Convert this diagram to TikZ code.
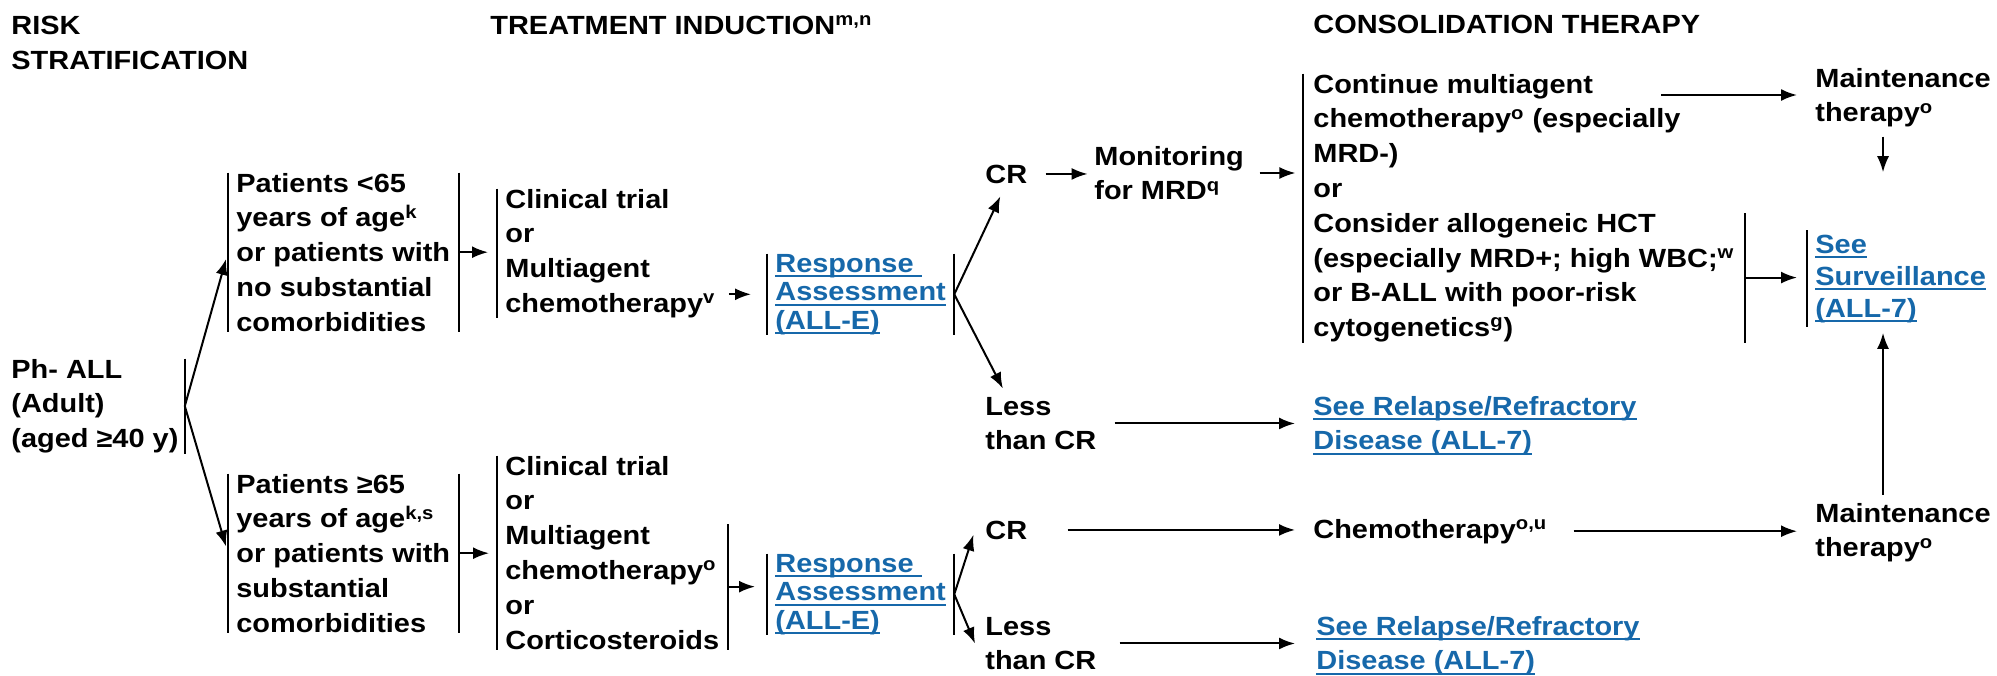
\documentclass[tikz,border=0pt]{standalone}
\usepackage{fontspec}
\setmainfont{Liberation Sans}[FakeStretch=1.1]
\usetikzlibrary{arrows.meta}
\definecolor{linkblue}{RGB}{22,104,170}
\newsavebox{\lnkbox}
\newcommand{\lnk}[1]{\sbox{\lnkbox}{#1}\rlap{\rule[-2.5pt]{\wd\lnkbox}{1pt}}\usebox{\lnkbox}}
\tikzset{
  txt/.style={anchor=base west, inner sep=0pt, align=left,
    font=\fontsize{13.15pt}{17.4pt}\selectfont\bfseries},
  blk/.style={txt, inner xsep=4pt},
  link/.style={text=linkblue, font=\fontsize{13.15pt}{#1}\selectfont\bfseries},
  link/.default=17.4pt,
  arr/.style={-{Latex[length=8pt,width=6pt]}, line width=1pt},
  bar/.style={line width=1pt}
}
\begin{document}
\begin{tikzpicture}[x=0.5pt, y=-0.5pt]
    \useasboundingbox (0, 0) rectangle (1997, 675) ;
    \node[txt] (risk) at (11, 69) {RISK\\STRATIFICATION} ;
    \node[txt] (induct) at (490, 34) {TREATMENT INDUCTION\textsuperscript{m,n}} ;
    \node[txt] (consol) at (1313, 33) {CONSOLIDATION THERAPY} ;
    \node[blk, inner xsep=3pt] (phall) at (5, 447.6) {Ph- ALL\\(Adult)\\(aged ≥40 y)} ;
    \node[blk] (young) at (228, 331.2) {Patients <65\\years of age\textsuperscript{k}\\or patients with\\no substantial\\comorbidities} ;
    \node[blk] (old) at (228, 632.2) {Patients ≥65\\years of age\textsuperscript{k,s}\\or patients with\\substantial\\comorbidities} ;
    \node[blk] (trialA) at (497, 312.4) {Clinical trial\\or\\Multiagent\\chemotherapy\textsuperscript{v}} ;
    \node[blk] (trialB) at (497, 649) {Clinical trial\\or\\Multiagent\\chemotherapy\textsuperscript{o}\\or\\Corticosteroids} ;
    \node[blk, link=14.3pt] (respA) at (767, 329.2) {\lnk{Response\ }\\\lnk{Assessment}\\\lnk{(ALL-E)}} ;
    \node[blk, link=14.3pt] (respB) at (767, 629.2) {\lnk{Response\ }\\\lnk{Assessment}\\\lnk{(ALL-E)}} ;
    \node[txt] (crA) at (985, 183) {CR} ;
    \node[txt] (lessA) at (985, 449.8) {Less\\than CR} ;
    \node[txt] (crB) at (985, 539) {CR} ;
    \node[txt] (lessB) at (985, 669.8) {Less\\than CR} ;
    \node[txt] (monitor) at (1094, 199.8) {Monitoring\\for MRD\textsuperscript{q}} ;
    \node[blk, inner xsep=5pt] (consolA) at (1303, 336.6) {Continue multiagent\\chemotherapy\textsuperscript{o} (especially\\MRD-)\\or\\Consider allogeneic HCT\\(especially MRD+; high WBC;\textsuperscript{w}\\or B-ALL with poor-risk\\cytogenetics\textsuperscript{g})} ;
    \node[txt, link] (relA) at (1313, 449.8) {\lnk{See Relapse/Refractory}\\\lnk{Disease (ALL-7)}} ;
    \node[txt] (chemo) at (1313, 538) {Chemotherapy\textsuperscript{o,u}} ;
    \node[txt, link] (relB) at (1316, 669.8) {\lnk{See Relapse/Refractory}\\\lnk{Disease (ALL-7)}} ;
    \node[txt] (maintA) at (1815, 121.8) {Maintenance\\therapy\textsuperscript{o}} ;
    \node[blk, inner ysep=2pt, link=16pt] (surv) at (1807, 317) {\lnk{See}\\\lnk{Surveillance}\\\lnk{(ALL-7)}} ;
    \node[txt] (maintB) at (1815, 556.8) {Maintenance\\therapy\textsuperscript{o}} ;
    \coordinate (cont) at (1661, 95) ;
    \draw[bar] (phall.north east) -- (phall.south east) ;
    \foreach \n in {young, old, respA, respB} {
      \draw[bar] (\n.north west) -- (\n.south west) ;
      \draw[bar] (\n.north east) -- (\n.south east) ;
    }
    \foreach \n in {trialA, trialB, consolA, surv}
      \draw[bar] (\n.north west) -- (\n.south west) ;
    \draw[bar] (trialB.south east) -- ++(0, -126) coordinate[midway] (trialBout) ;
    \draw[bar] (consolA.south east) -- ++(0, -130) coordinate[midway] (hct) ;
    \draw[arr, shorten >=3.5pt] (phall.east) -- (young.west) ;
    \draw[arr, shorten >=3.5pt] (phall.east) -- (old.west) ;
    \draw[arr, shorten >=4.5pt] (young.east) -- (young.east -| trialA.west) ;
    \draw[arr, shorten >=4pt] (old.east) -- (old.east -| trialB.west) ;
    \draw[arr, shorten <=2.5pt, shorten >=8pt] (trialA.east |- respA.west) -- (respA.west) ;
    \draw[arr, shorten >=6pt] (trialBout) -- (trialBout -| respB.west) ;
    \draw[arr, shorten >=7pt] (respA.east) -- (crA.south) ;
    \draw[arr, shorten >=4.5pt] (respA.east) -- ([xshift=11pt]lessA.north west) ;
    \draw[arr, shorten >=2.5pt] (respB.east) -- ([xshift=-5pt]crB.west) ;
    \draw[arr] (respB.east) -- ([xshift=-5pt]lessB.west) ;
    \draw[arr, shorten <=9pt, shorten >=3.2pt] (crA.east) -- (crA.east -| monitor.west) ;
    \draw[arr, shorten <=7.7pt, shorten >=3.8pt] (monitor.east) -- (monitor.east -| consolA.west) ;
    \draw[arr, shorten <=9pt, shorten >=9pt] (lessA.east) -- (lessA.east -| relA.west) ;
    \draw[arr, shorten <=20pt, shorten >=9pt] (crB.east) -- (crB.east -| chemo.west) ;
    \draw[arr, shorten <=11.5pt, shorten >=10.5pt] (lessB.east) -- (lessB.east -| relB.west) ;
    \draw[arr, shorten <=13pt, shorten >=9pt] (chemo.east) -- (chemo.east -| maintB.west) ;
    \draw[arr, shorten >=9pt] (cont) -- (cont -| maintA.west) ;
    \draw[arr, shorten >=5pt] (hct) -- (hct -| surv.west) ;
    \draw[arr, shorten <=4.5pt, shorten >=29pt] ([xshift=-10pt]maintA.south) -- ([xshift=-10pt]maintA.south |- surv.north) ;
    \draw[arr, shorten <=4pt, shorten >=3pt] ([xshift=-10pt]maintB.north) -- ([xshift=-10pt]maintB.north |- surv.south) ;
\end{tikzpicture}
\end{document}
